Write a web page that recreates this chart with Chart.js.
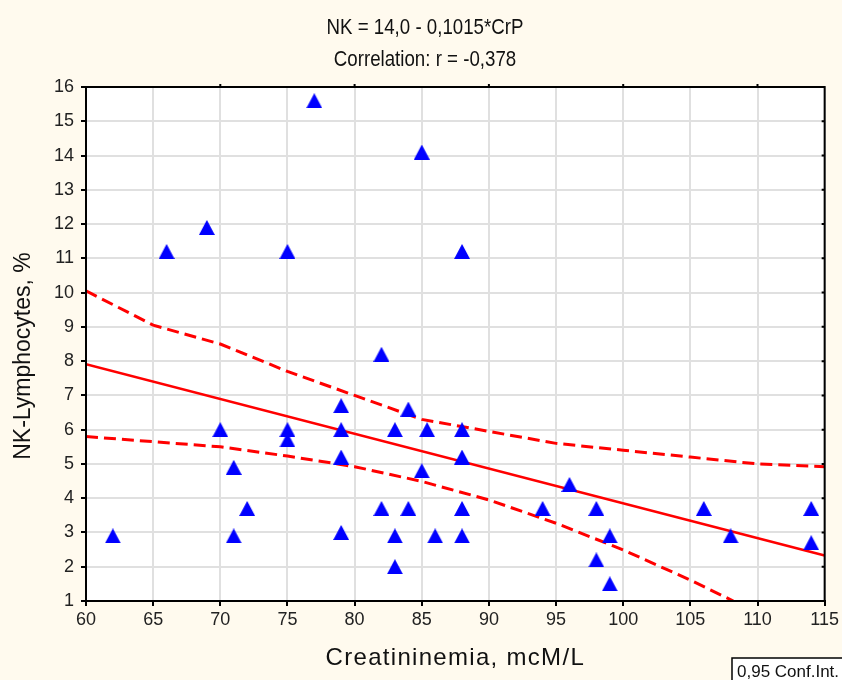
<!DOCTYPE html>
<html>
<head>
<meta charset="utf-8">
<script src="https://cdn.jsdelivr.net/npm/chart.js@4.4.1/dist/chart.umd.min.js"></script>
<style>
  html, body { margin: 0; padding: 0; background: #fffaee; }
  canvas { display: block; }
</style>
</head>
<body>
<canvas id="chart" width="842" height="680"></canvas>
<script>
// creatinine (x) and NK-lymphocytes (y), one entry per patient
const crp = [62, 66, 69, 70, 71, 71, 72, 75, 75, 75, 77, 79, 79, 79, 79, 82, 82, 83, 83, 83, 84,
             84, 85, 85, 85.4, 86, 88, 88, 88, 88, 88, 94, 96, 98, 98, 99, 99, 106, 108, 114, 114];
const nk  = [2.9, 11.2, 11.9, 6.0, 4.9, 2.9, 3.7, 11.2, 6.0, 5.7, 15.6, 6.7, 6.0, 5.2, 3.0, 8.2, 3.7, 6.0, 2.9, 2.0, 6.6,
             3.7, 14.1, 4.8, 6.0, 2.9, 11.2, 6.0, 5.2, 3.7, 2.9, 3.7, 4.4, 3.7, 2.2, 2.9, 1.5, 3.7, 2.9, 3.7, 2.7];

// fitted line NK = 14,0 - 0,1015*CrP
const fitA = 14.0;
const fitB = -0.1015;
const fitX = [60, 115];

// 0,95 confidence band
const upperX = [60, 65, 70, 75, 80, 85, 90, 95, 100, 105, 110, 115];
const upperY = [10.05, 9.05, 8.5, 7.7, 7.0, 6.3, 5.95, 5.6, 5.4, 5.2, 5.0, 4.92];
const lowerX = [60, 65, 70, 75, 80, 85, 90, 95, 100, 105, 108.2];
const lowerY = [5.8, 5.65, 5.5, 5.23, 4.92, 4.49, 3.95, 3.27, 2.49, 1.61, 1.0];

const xMin = 60, xMax = 115, xStep = 5;
const yMin = 1, yMax = 16, yStep = 1;

const titleLines = ["NK = 14,0 - 0,1015*CrP", "Correlation: r = -0,378"];
const xTitle = "Creatininemia, mcM/L";
const yTitle = "NK-Lymphocytes, %";
const legendText = "0,95 Conf.Int.";

const FONT = "'Liberation Sans', Arial, sans-serif";

// blue triangle marker, centred on the point
function makeTriangle() {
  const c = document.createElement("canvas");
  c.width = 16; c.height = 15;
  const g = c.getContext("2d");
  g.fillStyle = "#0000ff";
  g.beginPath();
  g.moveTo(8, 0);
  g.lineTo(16, 15);
  g.lineTo(0, 15);
  g.closePath();
  g.fill();
  return c;
}

const pts = crp.map((x, i) => ({ x: x, y: nk[i] }));
const fitPts = fitX.map(x => ({ x: x, y: fitA + fitB * x }));
const upperPts = upperX.map((x, i) => ({ x: x, y: upperY[i] }));
const lowerPts = lowerX.map((x, i) => ({ x: x, y: lowerY[i] }));

// page background, white plot area, frame, titles and the legend box
const decor = {
  id: "decor",
  beforeDraw(chart) {
    const { ctx, chartArea: a } = chart;
    ctx.save();
    ctx.fillStyle = "#fffaee";
    ctx.fillRect(0, 0, chart.width, chart.height);
    ctx.fillStyle = "#ffffff";
    ctx.fillRect(a.left, a.top, a.right - a.left, a.bottom - a.top);
    ctx.restore();
  },
  afterDraw(chart) {
    const { ctx, chartArea: a, scales } = chart;
    ctx.save();
    // frame
    ctx.strokeStyle = "#000";
    ctx.lineWidth = 2;
    ctx.strokeRect(a.left, a.top, a.right - a.left, a.bottom - a.top);
    // small ticks on top and right edges
    ctx.beginPath();
    for (let v = 70; v < xMax; v += 10) {
      const px = scales.x.getPixelForValue(v);
      ctx.moveTo(px, a.top); ctx.lineTo(px, a.top - 3);
    }
    for (let v = yMin + 1; v < yMax; v += yStep) {
      const py = scales.y.getPixelForValue(v);
      ctx.moveTo(a.right, py); ctx.lineTo(a.right - 3, py);
    }
    ctx.stroke();

    ctx.fillStyle = "#111";
    // two-line title, narrow face
    ctx.font = "22px " + FONT;
    ctx.textAlign = "center";
    ctx.textBaseline = "middle";
    [28, 60].forEach((y, i) => {
      ctx.save();
      ctx.translate(425, y);
      ctx.scale(0.85, 1);
      ctx.fillText(titleLines[i], 0, 0);
      ctx.restore();
    });

    // axis titles
    ctx.textBaseline = "alphabetic";
    ctx.save();
    ctx.font = "24px " + FONT;
    ctx.letterSpacing = "1.3px";
    ctx.fillText(xTitle, (a.left + a.right) / 2, 665);
    ctx.restore();

    ctx.save();
    ctx.font = "23px " + FONT;
    ctx.translate(30, 356);
    ctx.rotate(-Math.PI / 2);
    ctx.fillText(yTitle, 0, 0);
    ctx.restore();

    // legend box
    ctx.fillStyle = "#ffffff";
    ctx.fillRect(732, 658, 120, 26);
    ctx.strokeStyle = "#000";
    ctx.lineWidth = 1.5;
    ctx.strokeRect(732, 658, 120, 26);
    ctx.fillStyle = "#111";
    ctx.font = "17px " + FONT;
    ctx.textAlign = "left";
    ctx.fillText(legendText, 737, 677);
    ctx.restore();
  }
};

new Chart(document.getElementById("chart"), {
  type: "scatter",
  data: {
    datasets: [
      { label: "NK", data: pts, pointStyle: makeTriangle(), pointRadius: 8, pointHoverRadius: 8, order: 0 },
      { type: "line", label: "fit", data: fitPts, borderColor: "#ff0000", borderWidth: 2.5,
        pointRadius: 0, fill: false, order: 1 },
      { type: "line", label: "upper", data: upperPts, borderColor: "#ff0000", borderWidth: 3,
        borderDash: [12, 6], pointRadius: 0, fill: false, order: 1 },
      { type: "line", label: "lower", data: lowerPts, borderColor: "#ff0000", borderWidth: 3,
        borderDash: [12, 6], pointRadius: 0, fill: false, order: 1 }
    ]
  },
  options: {
    responsive: false,
    animation: false,
    layout: { padding: { top: 87, right: 15, left: 0, bottom: 0 } },
    plugins: { legend: { display: false }, tooltip: { enabled: false }, title: { display: false } },
    scales: {
      x: {
        type: "linear", min: xMin, max: xMax,
        afterFit(s) { s.height = 79; },
        ticks: { stepSize: xStep, color: "#222", font: { family: FONT, size: 18 }, padding: 3 },
        grid: { color: "#e0e0e0", lineWidth: 2, tickColor: "#000", tickLength: 5, tickWidth: 2 },
        border: { color: "#000", width: 2 }
      },
      y: {
        type: "linear", min: yMin, max: yMax,
        afterFit(s) { s.width = 86; },
        ticks: { stepSize: yStep, color: "#222", font: { family: FONT, size: 18 }, padding: 7 },
        grid: { color: "#e0e0e0", lineWidth: 2, tickColor: "#000", tickLength: 5, tickWidth: 2 },
        border: { color: "#000", width: 2 }
      }
    }
  },
  plugins: [decor]
});
</script>
</body>
</html>
